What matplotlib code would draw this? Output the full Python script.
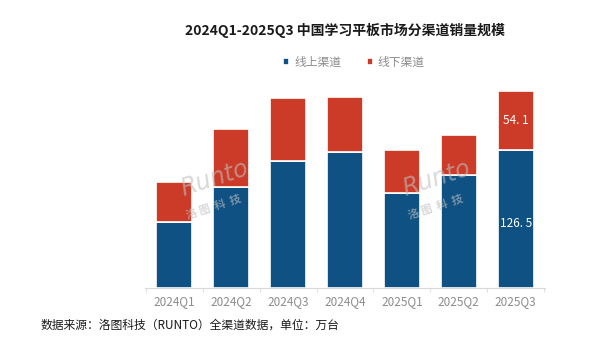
import matplotlib.pyplot as plt
import numpy as np

plt.rcParams['font.family'] = ['Noto Sans CJK SC', 'DejaVu Sans']

quarters = ["2024Q1", "2024Q2", "2024Q3", "2024Q4", "2025Q1", "2025Q2", "2025Q3"]
online = [60.4, 93.2, 117.1, 125.4, 87.1, 104.0, 126.5]
offline = [37.4, 52.8, 57.4, 50.0, 39.6, 36.5, 54.1]

blue = "#0f5183"
red = "#cc3b28"

fig = plt.figure(figsize=(6, 3.5), dpi=100)
ax = fig.add_axes([0.242, 0.177, 0.666, 0.594])

x = np.arange(len(quarters))
ax.bar(x, online, width=0.64, color=blue, edgecolor="white", linewidth=1.2, label="线上渠道")
ax.bar(x, offline, width=0.64, bottom=online, color=red, edgecolor="white", linewidth=1.2, label="线下渠道")

# only the latest quarter is labelled
i = len(quarters) - 1
ax.text(x[i], online[i] / 2 - 4, f"{online[i]}".replace(".", ". "), ha="center", va="center",
        color="white", fontsize=8.5)
ax.text(x[i], online[i] + offline[i] / 2, f"{offline[i]}".replace(".", ". "), ha="center", va="center",
        color="white", fontsize=8.5)

ax.set_xlim(-0.51, 6.51)
ax.set_ylim(0, 191)
ax.set_xticks(x)
ax.set_xticklabels(quarters, color="#8c8c8c", fontsize=8.5)
ax.set_xticks(np.arange(len(quarters) + 1) - 0.5, minor=True)
ax.tick_params(axis="x", which="major", length=0, pad=5)
ax.tick_params(axis="x", which="minor", length=3, color="#d9d9d9")
ax.set_yticks([])
for s in ["top", "right", "left"]:
    ax.spines[s].set_visible(False)
ax.spines["bottom"].set_color("#d9d9d9")

# watermarks
for wx, wy in [(0.7, 0.42), (4.6, 0.42)]:
    ax.text(wx, wy * 191 + 20, "Runto", fontsize=17, style="italic", color="#bfbfbf",
            alpha=0.6, rotation=18, ha="center", va="center", family="DejaVu Sans")
    ax.text(wx, wy * 191 - 6, "洛 图  科  技", fontsize=8, weight="bold", color="#bfbfbf",
            alpha=0.6, rotation=18, ha="center", va="center")

fig.text(0.575, 0.913, "2024Q1-2025Q3 中国学习平板市场分渠道销量规模", ha="center", va="center",
         fontsize=10, weight="bold", color="#1a1a1a")

leg = fig.legend(loc="center", bbox_to_anchor=(0.59, 0.823), ncol=2, frameon=False,
                 fontsize=8.5, handlelength=0.5, handleheight=0.5, columnspacing=2.2,
                 handletextpad=0.4)
for t in leg.get_texts():
    t.set_color("#8c8c8c")

fig.text(0.067, 0.07, "数据来源：洛图科技（RUNTO）全渠道数据，单位：万台", ha="left", va="center",
         fontsize=8.5, color="#1a1a1a")

fig.savefig("out.png", dpi=100)
